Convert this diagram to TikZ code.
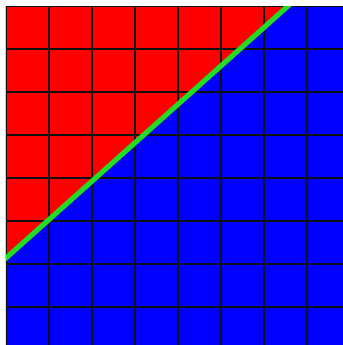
\documentclass[tikz,border=0pt]{standalone}
\usepackage{xcolor}
\usetikzlibrary{calc}
\definecolor{halfred}{HTML}{FF0000}
\definecolor{halfblue}{HTML}{0000FF}
\definecolor{splitgreen}{HTML}{22DD22}
\definecolor{gridline}{HTML}{101010}

\begin{document}
\begin{tikzpicture}[
    x=0.1mm, y=-0.1mm,
    gridrule/.style={draw=gridline, line width=0.55pt},
    splitline/.style={draw=splitgreen, line width=1.45pt}
]
\useasboundingbox (0,0) rectangle (343,345);

% plane area
\begin{scope}
  \clip (6,6) rectangle (343,345);
  \fill[halfblue] (6,6) rectangle (343,345);
  \fill[halfred] (6,6) -- (288,6) -- (6,258) -- cycle;

  % grid, one cell = 43 px
  \foreach \k in {0,...,8} {
    \draw[gridrule] ({6+43*\k},6) -- ({6+43*\k},345);
    \draw[gridrule] (6,{6+43*\k}) -- (343,{6+43*\k});
  }

  % boundary between the halves
  \coordinate (lft) at (6,258);
  \coordinate (tp) at (288,6);
  \draw[splitline] ($(lft)!-0.1!(tp)$) -- ($(tp)!-0.1!(lft)$);
\end{scope}

\end{tikzpicture}
\end{document}
